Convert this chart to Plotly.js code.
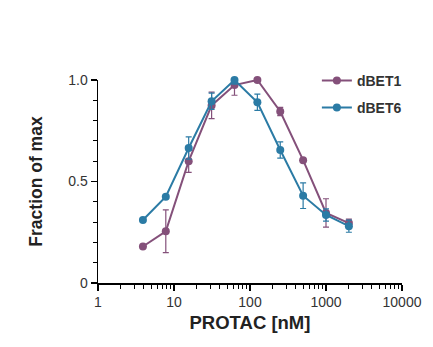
<!DOCTYPE html>
<html><head><meta charset="utf-8">
<script src="https://cdn.plot.ly/plotly-3.0.1.min.js"></script>
<style>html,body{margin:0;padding:0;background:#fff}#chart{width:433px;height:347px}</style>
</head><body><div id="chart"></div>
<script>
var conc = [3.9, 7.8, 15.6, 31.25, 62.5, 125, 250, 500, 1000, 2000];
var dBET1 = [0.18, 0.255, 0.60, 0.875, 0.975, 1.0, 0.845, 0.605, 0.345, 0.295];
var dBET1_err = [0, 0.105, 0.055, 0.065, 0.05, 0, 0.02, 0, 0.07, 0.02];
var dBET6 = [0.31, 0.425, 0.665, 0.895, 1.0, 0.89, 0.655, 0.43, 0.335, 0.28];
var dBET6_err = [0, 0, 0.055, 0.04, 0.02, 0.04, 0.04, 0.063, 0.03, 0.03];
var xTickVals = [1, 10, 100, 1000, 10000];
var xTickText = ['1', '10', '100', '1000', '10000'];
var yTickVals = [0, 0.5, 1.0];
var yTickText = ['0', '0.5', '1.0'];
var names = ['dBET1', 'dBET6'];
var colors = ['#84507a', '#2b7ba5'];

var minorX = [];
[1, 10, 100, 1000].forEach(function (d) { for (var k = 2; k <= 9; k++) minorX.push(d * k); });

function tr(y, e, i) {
  return {
    x: conc, y: y, name: names[i], legendgroup: 'g' + i, type: 'scatter', mode: 'lines+markers',
    line: {color: colors[i], width: 2},
    marker: {color: colors[i], size: 8},
    error_y: {type: 'data', array: e, visible: true, color: colors[i], thickness: 1.2, width: 3},
    cliponaxis: false
  };
}
var data = [tr(dBET1, dBET1_err, 0), tr(dBET6, dBET6_err, 1)];
var layout = {
  width: 433, height: 347,
  margin: {l: 98, r: 31, t: 80, b: 64},
  paper_bgcolor: '#fff', plot_bgcolor: '#fff',
  font: {family: 'Liberation Sans, Arial, sans-serif', color: '#333'},
  showlegend: true,
  legend: {x: 0.72, y: 1.075, xanchor: 'left', yanchor: 'top', font: {size: 14, color: '#333', weight: 'bold'}, tracegroupgap: 6, bgcolor: 'rgba(0,0,0,0)'},
  xaxis: {
    type: 'log', range: [0, 4], showgrid: false, zeroline: false,
    showline: true, linecolor: '#000', linewidth: 1.5,
    tickmode: 'array', tickvals: xTickVals, ticktext: xTickText,
    ticks: 'outside', ticklen: 6, tickwidth: 1.5, tickcolor: '#000',
    tickfont: {size: 14, color: '#333'},
    minor: {tickmode: 'array', tickvals: minorX, ticks: 'outside', ticklen: 4, tickwidth: 1, tickcolor: '#000', showgrid: false},
    title: {text: 'PROTAC [nM]', font: {size: 18.5, color: '#222', weight: 'bold'}, standoff: 7}
  },
  yaxis: {
    range: [0, 1], showgrid: false, zeroline: false,
    showline: true, linecolor: '#000', linewidth: 1.5,
    tickmode: 'array', tickvals: yTickVals, ticktext: yTickText,
    ticks: 'outside', ticklen: 6, tickwidth: 1.5, tickcolor: '#000',
    tickfont: {size: 14, color: '#333'},
    minor: {dtick: 0.1, ticks: 'outside', ticklen: 4, tickwidth: 1, tickcolor: '#000', showgrid: false},
    title: {text: 'Fraction of max', font: {size: 17.5, color: '#222', weight: 'bold'}, standoff: 21}
  }
};
Plotly.newPlot('chart', data, layout, {displayModeBar: false, staticPlot: true});
</script></body></html>
